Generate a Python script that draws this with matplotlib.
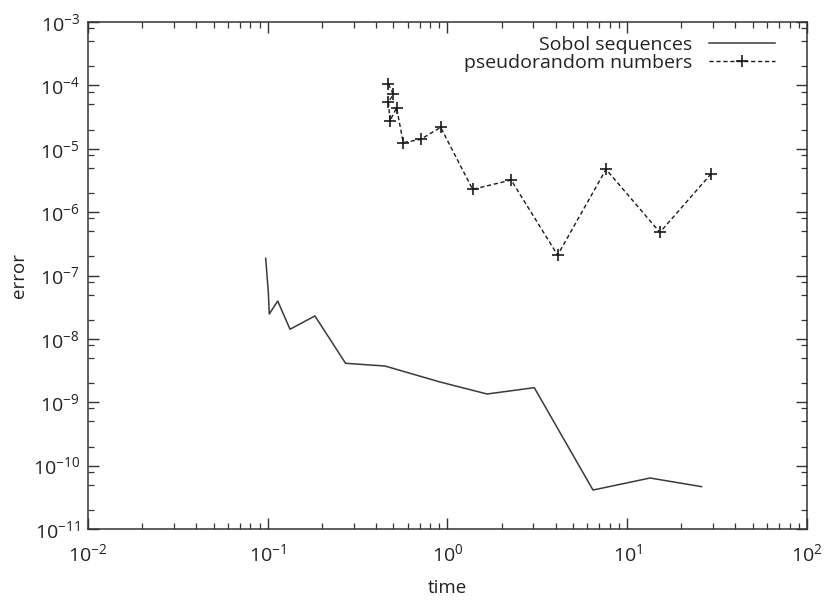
import numpy as np
import matplotlib
matplotlib.use("Agg")
import matplotlib.pyplot as plt
from matplotlib.ticker import LogLocator, NullFormatter

plt.rcParams['font.family'] = ['Open Sans', 'DejaVu Sans']
plt.rcParams['mathtext.fontset'] = 'custom'
plt.rcParams['mathtext.rm'] = 'Open Sans'

# Sobol sequences
sobol_time = [0.0974, 0.1007, 0.1020, 0.1136, 0.133, 0.183, 0.271, 0.449,
              0.908, 1.66, 3.04, 6.45, 13.4, 25.9]
sobol_err = [1.87e-7, 5.5e-8, 2.47e-8, 3.96e-8, 1.42e-8, 2.3e-8, 4.12e-9, 3.73e-9,
             2.09e-9, 1.35e-9, 1.70e-9, 4.12e-11, 6.38e-11, 4.66e-11]

# pseudorandom numbers
pr_time = [0.469, 0.500, 0.469, 0.479, 0.521, 0.567, 0.710, 0.916,
           1.38, 2.26, 4.10, 7.62, 15.2, 29.1]
pr_err = [1.05e-4, 7.2e-5, 5.5e-5, 2.77e-5, 4.45e-5, 1.25e-5, 1.41e-5, 2.18e-5,
          2.29e-6, 3.21e-6, 2.1e-7, 4.74e-6, 4.8e-7, 3.95e-6]

fig = plt.figure(figsize=(8.28, 6.05), dpi=100)
ax = fig.add_axes([0.1063, 0.1256, 0.8683, 0.838])

ax.plot(sobol_time, sobol_err, color='#3a3a3a', lw=1.1, label='Sobol sequences')
ax.plot(pr_time, pr_err, color='#1a1a1a', lw=1.0, ls=(0, (3, 2)),
        marker='+', ms=9, mew=1.2, label='pseudorandom numbers')

ax.set_xscale('log')
ax.set_yscale('log')
ax.set_xlim(1e-2, 1e2)
ax.set_ylim(1e-11, 1e-3)

ax.xaxis.set_major_locator(LogLocator(base=10, numticks=10))
ax.xaxis.set_minor_locator(LogLocator(base=10, subs=np.arange(2, 10), numticks=10))
ax.yaxis.set_major_locator(LogLocator(base=10, numticks=20))
ax.yaxis.set_minor_locator(LogLocator(base=10, subs=(2, 5, 8), numticks=20))
ax.xaxis.set_minor_formatter(NullFormatter())
ax.yaxis.set_minor_formatter(NullFormatter())

ax.tick_params(which='both', direction='in', top=True, right=True,
               color='#333333', labelsize=14, labelcolor='#222222')
ax.tick_params(which='major', length=8, width=1)
ax.tick_params(which='minor', length=4, width=0.9)
ax.tick_params(axis='x', pad=10)
ax.tick_params(axis='y', pad=6)
for s in ax.spines.values():
    s.set_color('#333333')
    s.set_linewidth(1.1)

ax.set_xlabel('time', fontsize=13.5, color='#222222', labelpad=10)
ax.set_ylabel('error', fontsize=13.5, color='#222222', labelpad=3)

leg = ax.legend(loc='upper right', frameon=False, markerfirst=False,
                fontsize=14, handlelength=3.4, handletextpad=0.9,
                borderaxespad=0.3, labelspacing=0.0,
                bbox_to_anchor=(0.975, 1.0))
for t in leg.get_texts():
    t.set_color('#222222')

fig.savefig('out.png', dpi=100)
